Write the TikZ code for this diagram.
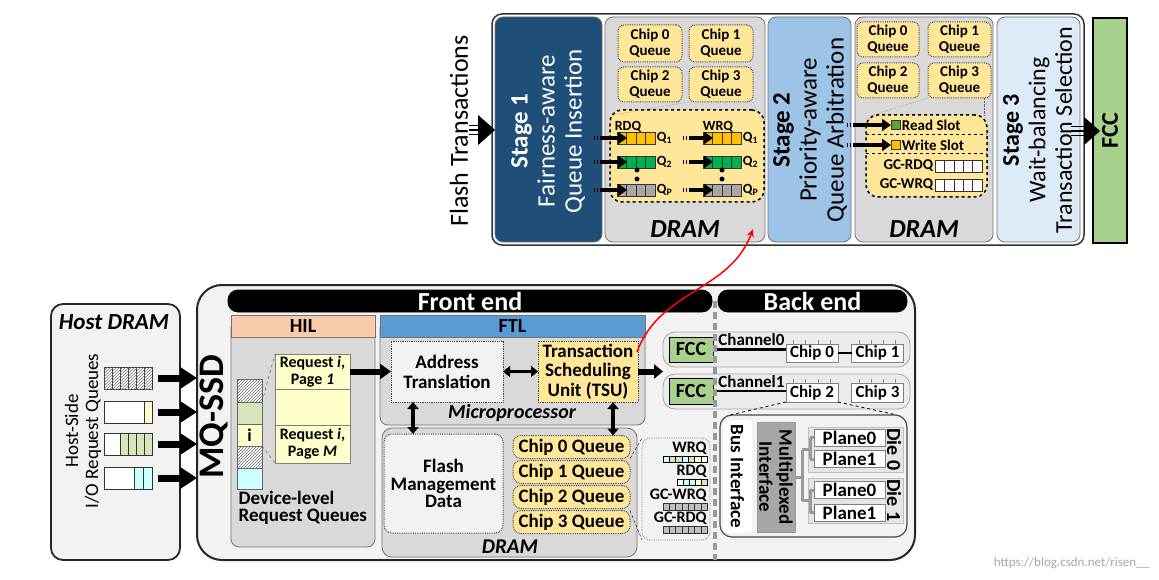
\documentclass[tikz,border=0pt]{standalone}
\usepackage{fontspec}
\setmainfont{Carlito}
\usetikzlibrary{positioning,arrows.meta,calc,patterns}
\definecolor{stone}{HTML}{1F4E79}
\definecolor{stwo}{HTML}{9DC3E6}
\definecolor{sthree}{HTML}{DEEBF7}
\definecolor{fccg}{HTML}{A9D18E}
\definecolor{qyel}{HTML}{FFE699}
\definecolor{qgold}{HTML}{FFC000}
\definecolor{qgreen}{HTML}{00B050}
\definecolor{qgray}{HTML}{A6A6A6}
\definecolor{slotg}{HTML}{5EA33A}
\definecolor{hilc}{HTML}{F8CBAD}
\definecolor{ftlc}{HTML}{5B9BD5}
\definecolor{lgray}{HTML}{D9D9D9}
\definecolor{vlgray}{HTML}{F2F2F2}
\definecolor{pyel}{HTML}{FFFFCC}
\definecolor{pgreen}{HTML}{D8E4BC}
\definecolor{pcyan}{HTML}{CCFFFF}

\begin{document}
\begin{tikzpicture}[x=1pt, y=-1pt, thick,
    sz/.style 2 args={minimum width=#1pt, minimum height=#2pt},
    box/.style={draw=black!55, line width=.8pt, inner sep=0pt, outer sep=0pt},
    dotbox/.style={box, draw=black!75, densely dotted, line width=1pt},
    cq/.style={dotbox, fill=qyel, rounded corners=6pt, align=center, font=\bfseries\fontsize{15}{16}\selectfont},
    que/.style={draw=black!80, line width=.7pt, inner sep=0pt, outer sep=0pt},
    cells/.style 2 args={path picture={\foreach \k in {1,...,#1} \draw[line width=.6pt] ([xshift=\k*#2]path picture bounding box.south west) -- ([xshift=\k*#2]path picture bounding box.north west);}},
    hatch/.style={postaction={pattern=north east lines, pattern color=black!55}},
    stgtxt/.style={rotate=90, align=center, font=\fontsize{25}{27}\selectfont},
    lab/.style={inner sep=1.5pt, font=\bfseries\fontsize{14}{15}\selectfont},
    lab15/.style={inner sep=1.5pt, font=\bfseries\fontsize{15}{16}\selectfont},
    lab16/.style={inner sep=1pt, font=\bfseries\fontsize{16}{17}\selectfont},
    chip/.style={box, draw=black!50, fill=white, sz={52}{18}, font=\bfseries\fontsize{17}{18}\selectfont},
    pl/.style={box, draw=black!50, fill=white, sz={71}{17}, font=\bfseries\fontsize{19}{20}\selectfont},
    fat/.style={line width=7pt, -{Triangle[length=17pt,width=21pt]}},
    dbl/.style={line width=3.5pt, {Triangle[length=7pt,width=11pt]}-{Triangle[length=7pt,width=11pt]}},
    qarrow/.style={line width=3.2pt, dash pattern=on 1.3pt off 1.6pt on 1.3pt off 1.6pt on 60pt off 1pt, -{Triangle[length=9pt,width=12pt]}},
    tree/.style={line width=3pt, black!40}]
    \useasboundingbox (0,0) rectangle (1159,580);

    \node[box, draw=black!80, line width=1.5pt, rounded corners=10pt, fill=white, sz={592}{231}] (top) at (788,129.5) {};
    \node[box, rounded corners=8pt, fill=stone, sz={107}{225}] (st1) at (548.5,129.5) {};
    \node[stgtxt, text=white] (st1t) at (548,131) {\textbf{Stage 1}\\Fairness-aware\\Queue Insertion};
    \node[box, rounded corners=8pt, fill=lgray, sz={160}{225}] (dram1) at (685,129.5) {};
    \node[box, rounded corners=8pt, fill=stwo, sz={83}{225}] (st2) at (809.5,129.5) {};
    \node[stgtxt] (st2t) at (810,130) {\textbf{Stage 2}\\Priority-aware\\Queue Arbitration};
    \node[box, rounded corners=8pt, fill=lgray, sz={138}{225}] (dram2) at (924,129.5) {};
    \node[box, rounded corners=8pt, fill=sthree, sz={83}{225}] (st3) at (1038.5,129.5) {};
    \node[stgtxt, font=\fontsize{24}{26.5}\selectfont] (st3t) at (1037.5,130) {\textbf{Stage 3}\\Wait-balancing\\Transaction Selection};
    \node[box, draw=black, line width=1.2pt, fill=fccg, sz={34}{225}] (fcc0) at (1110,130.5) {};
    \node[rotate=90, font=\bfseries\fontsize{24}{26}\selectfont] (fcc0t) at (fcc0) {FCC};
    \node[rotate=90, font=\fontsize{26}{28}\selectfont] (ft) at (459,131) {Flash Transactions};

    \coordinate (fta) at (469,130);
    \draw[line width=1.2pt] ([shift={(0,-4.5)}]fta) -- ++(12,0) (fta) -- ++(12,0) ([shift={(0,4.5)}]fta) -- ++(12,0);
    \draw[line width=1pt, -{Triangle[length=17pt,width=30pt]}] ([xshift=10pt]fta) -- (fta -| st1.west);
    \coordinate (ftb) at (1071,131);
    \draw[line width=1.2pt] ([shift={(0,-4.5)}]ftb) -- ++(15,0) (ftb) -- ++(15,0) ([shift={(0,4.5)}]ftb) -- ++(15,0);
    \draw[line width=1pt, -{Triangle[length=16pt,width=28pt]}] ([xshift=13pt]ftb) -- ([xshift=7pt]fcc0.west |- ftb);

    \node[cq, sz={64}{37}] (q0a) at (650,43.5) {Chip 0\\Queue};
    \node[cq, sz={64}{37}] (q1a) at (721,43.5) {Chip 1\\Queue};
    \node[cq, sz={64}{35}] (q2a) at (650,84.5) {Chip 2\\Queue};
    \node[cq, sz={64}{35}] (q3a) at (721,84.5) {Chip 3\\Queue};
    \node[box, draw=black, dashed, line width=1.5pt, rounded corners=12pt, fill=qyel, sz={154}{92}] (qb1) at (687,156) {};
    \draw[densely dotted, thin, black!60] (q3a.south west) -- ([shift={(3,5)}]qb1.north west);
    \draw[densely dotted, thin, black!60] (q3a.south east) -- ([shift={(-2,12)}]qb1.north east);
    \node[lab] (rdq) at (628,127) {RDQ};
    \node[lab] (wrq) at (718,127) {WRQ};
    \node[que, fill=qgold, cells={3}{9.5}, sz={38}{12}] (r1) at (636,138) {};
    \node[que, fill=qgreen, cells={3}{9.5}, sz={38}{12}] (r2) at (636,162) {};
    \node[que, fill=qgray, cells={3}{9.5}, sz={38}{12}] (rP) at (636,190) {};
    \node[que, fill=qgold, cells={3}{9.5}, sz={38}{12}] (w1) at (722,138) {};
    \node[que, fill=qgreen, cells={3}{9.5}, sz={38}{12}] (w2) at (722,162) {};
    \node[que, fill=qgray, cells={3}{9.5}, sz={38}{12}] (wP) at (722,190) {};
    \node[lab, anchor=west] (r1q) at (r1.east) {Q\textsubscript{1}};
    \node[lab, anchor=west] (r2q) at (r2.east) {Q\textsubscript{2}};
    \node[lab, anchor=west] (rPq) at (rP.east) {Q\textsubscript{P}};
    \node[lab, anchor=west] (w1q) at (w1.east) {Q\textsubscript{1}};
    \node[lab, anchor=west] (w2q) at (w2.east) {Q\textsubscript{2}};
    \node[lab, anchor=west] (wPq) at (wP.east) {Q\textsubscript{P}};
    \draw[qarrow] ([xshift=-23pt]r1.west) -- ([xshift=10pt]r1.west);
    \draw[qarrow] ([xshift=-23pt]r2.west) -- ([xshift=10pt]r2.west);
    \draw[qarrow] ([xshift=-23pt]rP.west) -- ([xshift=10pt]rP.west);
    \draw[qarrow] ([xshift=-20pt]w1.west) -- ([xshift=10pt]w1.west);
    \draw[qarrow] ([xshift=-20pt]w2.west) -- ([xshift=10pt]w2.west);
    \draw[qarrow] ([xshift=-20pt]wP.west) -- ([xshift=10pt]wP.west);
    \fill (637,170) circle (2.5) (637,179) circle (2.5) (722,170) circle (2.5) (722,179) circle (2.5);
    \node[font=\bfseries\itshape\fontsize{26}{28}\selectfont] (d1l) at (685,229) {DRAM};

    \node[cq, sz={62}{35}] (q0b) at (888,39.5) {Chip 0\\Queue};
    \node[cq, sz={63}{35}] (q1b) at (959.5,39.5) {Chip 1\\Queue};
    \node[cq, sz={62}{35}] (q2b) at (888,80.5) {Chip 2\\Queue};
    \node[cq, sz={63}{35}] (q3b) at (959.5,80.5) {Chip 3\\Queue};
    \node[box, draw=black, dashed, line width=1.5pt, rounded corners=12pt, fill=qyel, sz={121}{82}] (qb2) at (926.5,156) {};
    \draw[densely dotted, thin, black!60] (q3b.south west) -- ([shift={(4,1)}]qb2.north west);
    \draw[densely dotted, thin, black!60] ([xshift=-7pt]q3b.south east) -- ([xshift=-7pt]q3b.south east |- qb2.north);
    \draw[dashed, line width=1pt] ([shift={(0,20)}]qb2.north west) -- ([shift={(0,20)}]qb2.north east);
    \draw[dashed, line width=1pt] ([shift={(0,39)}]qb2.north west) -- ([shift={(0,39)}]qb2.north east);
    \node[que, fill=slotg, sz={9}{9}] (rs) at (895.5,125) {};
    \node[que, fill=qgold, sz={9}{9}] (ws) at (895.5,145) {};
    \node[lab15, anchor=west] (rst) at (rs.east) {Read Slot};
    \node[lab15, anchor=west] (wst) at (ws.east) {Write Slot};
    \draw[qarrow] ([xshift=-44pt]rs.west) -- (rs.west);
    \draw[qarrow] ([xshift=-44pt]ws.west) -- (ws.west);
    \node[que, fill=white, cells={4}{9.4}, sz={47}{12}] (gq1) at (958.5,166) {};
    \node[que, fill=white, cells={4}{9.4}, sz={47}{12}] (gq2) at (958.5,185) {};
    \node[lab15, anchor=east] (gq1l) at (gq1.west) {GC-RDQ};
    \node[lab15, anchor=east] (gq2l) at (gq2.west) {GC-WRQ};
    \node[font=\bfseries\itshape\fontsize{26}{28}\selectfont] (d2l) at (924,229) {DRAM};

    \node[box, draw=black!85, line width=2pt, rounded corners=25pt, fill=vlgray, sz={718}{275}] (ssd) at (556,422.5) {};
    \node[box, draw=black!85, line width=1.8pt, rounded corners=12pt, fill=vlgray, sz={129}{256}] (host) at (115.5,432) {};
    \node[font=\bfseries\itshape\fontsize{23}{25}\selectfont] (hostl) at (114,322) {Host DRAM};
    \node[rotate=90, align=center, font=\fontsize{19}{20}\selectfont] (hsq) at (83,431) {Host-Side\\I/O Request Queues};
    \node[que, fill=white, hatch, cells={5}{8}, sz={48}{22}] (h1) at (128,378) {};
    \node[que, fill=white, sz={40}{22}] (h2) at (124,412) {};
    \node[que, fill=pyel, sz={8}{22}, right=0pt of h2] (h2c) {};
    \node[que, fill=white, sz={16}{22}] (h3) at (112,444) {};
    \node[que, fill=pgreen, cells={3}{8}, sz={32}{22}, right=0pt of h3] (h3c) {};
    \node[que, fill=white, sz={30}{22}] (h4) at (119,478) {};
    \node[que, fill=pcyan, cells={1}{9}, sz={18}{22}, right=0pt of h4] (h4c) {};
    \draw[fat] (h1.east) ++(6,0) -- (ssd.west |- h1);
    \draw[fat] (h2c.east) ++(6,0) -- (ssd.west |- h2c);
    \draw[fat] (h3c.east) ++(6,0) -- (ssd.west |- h3c);
    \draw[fat] (h4c.east) ++(6,0) -- (ssd.west |- h4c);
    \node[rotate=90, font=\bfseries\fontsize{36}{38}\selectfont] (mq) at (214,417) {MQ-SSD};

    \node[box, draw=black, fill=black, rounded corners=10pt, sz={484}{22}, text=white, font=\bfseries\fontsize{26}{26}\selectfont] (fe) at (470,301) {Front end};
    \node[box, draw=black, fill=black, rounded corners=10pt, sz={189}{22}, text=white, font=\bfseries\fontsize{26}{26}\selectfont] (be) at (812.5,301) {Back end};

    \node[box, rounded corners=8pt, fill=lgray, sz={144}{227}] (hilb) at (303,433.5) {};
    \node[box, fill=hilc, sz={144}{22}, font=\bfseries\fontsize{20}{22}\selectfont] (hil) at (303,326) {HIL};
    \node[que, draw=black!60, fill=white, hatch, sz={25}{23}] (dq1) at (249.5,390.5) {};
    \node[que, draw=black!60, fill=pgreen, sz={25}{22}, below=0pt of dq1] (dq2) {};
    \node[que, draw=black!60, fill=pyel, sz={25}{22}, below=0pt of dq2, font=\bfseries\fontsize{18}{18}\selectfont] (dq3) {i};
    \node[que, draw=black!60, fill=white, hatch, sz={25}{22}, below=0pt of dq3] (dq4) {};
    \node[que, draw=black!60, fill=pcyan, sz={25}{21}, below=0pt of dq4] (dq5) {};
    \node[que, draw=black!50, fill=pyel, sz={75}{35}, align=center, font=\bfseries\fontsize{16}{17}\selectfont] (rl1) at (312.5,371.5) {Request \textit{i},\\Page \textit{1}};
    \node[que, draw=black!50, fill=pyel, sz={75}{36}, below=0pt of rl1] (rl2) {};
    \node[que, draw=black!50, fill=pyel, sz={75}{38}, align=center, font=\bfseries\fontsize{16}{17}\selectfont, below=0pt of rl2] (rl3) {Request \textit{i},\\Page \textit{M}};
    \draw[dashed, thin, black!70] (dq2.north east) -- (rl1.north west);
    \draw[dashed, thin, black!70] (dq3.south east) -- (rl3.south west);
    \node[anchor=west, align=left, font=\bfseries\fontsize{19}{17}\selectfont] (dlq) at (235,508) {Device-level\\Request Queues};

    \node[box, rounded corners=8pt, fill=lgray, sz={265}{105}] (mp) at (512.5,372.5) {};
    \node[box, fill=ftlc, sz={265}{22}, font=\bfseries\fontsize{20}{22}\selectfont] (ftl) at (512.5,326) {FTL};
    \node[font=\bfseries\itshape\fontsize{20}{22}\selectfont] (mpl) at (512,413) {Microprocessor};
    \node[dotbox, fill=vlgray, sz={112}{61}, align=center, font=\bfseries\fontsize{19}{20}\selectfont] (at) at (447,371.5) {Address\\Translation};
    \node[dotbox, fill=qyel, sz={100}{61}, align=center, font=\bfseries\fontsize{19}{19.5}\selectfont] (tsu) at (588,371.5) {Transaction\\Scheduling\\Unit (TSU)};
    \draw[fat, line width=6pt, -{Triangle[length=11pt,width=15pt]}] (rl1) -- (at);
    \draw[dbl] (at) -- (tsu);

    \node[box, rounded corners=10pt, fill=lgray, sz={255}{129}] (dram3) at (509.5,492.5) {};
    \node[dotbox, rounded corners=8pt, fill=vlgray, sz={119}{99}, align=center, font=\bfseries\fontsize{19}{17.5}\selectfont] (fmd) at (443.5,483.5) {Flash\\Management\\Data};
    \node[cq, rounded corners=8pt, sz={117}{23}, font=\bfseries\fontsize{19}{20}\selectfont] (c0q) at (571.5,447) {Chip 0 Queue};
    \node[cq, rounded corners=8pt, sz={117}{23}, font=\bfseries\fontsize{19}{20}\selectfont, below=2pt of c0q] (c1q) {Chip 1 Queue};
    \node[cq, rounded corners=8pt, sz={117}{23}, font=\bfseries\fontsize{19}{20}\selectfont, below=2pt of c1q] (c2q) {Chip 2 Queue};
    \node[cq, rounded corners=8pt, sz={117}{23}, font=\bfseries\fontsize{19}{20}\selectfont, below=2pt of c2q] (c3q) {Chip 3 Queue};
    \node[font=\bfseries\itshape\fontsize{21}{22}\selectfont] (d3l) at (510,547) {DRAM};
    \draw[dbl] ([xshift=22pt]at.south west) -- ([xshift=22pt]at.south west |- fmd.north);
    \draw[dbl] ([xshift=-25pt]tsu.south east) -- ([xshift=-25pt]tsu.south east |- c0q.north);

    \node[box, draw=black!50, densely dotted, rounded corners=8pt, sz={68}{102}] (sq) at (676,489) {};
    \draw[densely dashed, thin] (c0q.south east) -- (sq.north west);
    \draw[densely dashed, thin] (c3q.north east) -- (sq.south west);
    \node[lab16, anchor=east] (wql) at (708,448) {WRQ};
    \node[lab16, anchor=east] (rql) at (708,471) {RDQ};
    \node[lab16, anchor=east] (gwl) at (708,495) {GC-WRQ};
    \node[lab16, anchor=east] (grl) at (708,518) {GC-RDQ};
    \foreach \c [count=\k from 0] in {pcyan,pgreen,pgreen,pcyan,pgreen,pyel,white}
        \draw[fill=\c, line width=.6pt] (663+\k*6.3,456) rectangle ++(6.3,6.5);
    \foreach \c [count=\k from 0] in {white,pcyan,pcyan,pyel,pgreen}
        \draw[fill=\c, line width=.6pt] (677+\k*6,479) rectangle ++(6,6.5);
    \node[que, fill=black!25, cells={6}{6.3}, sz={44}{7}] (gw) at (685,506.5) {};
    \node[que, fill=black!25, cells={6}{6.3}, sz={44}{7}] (gr) at (685,529.5) {};

    \node[box, draw=black!35, rounded corners=12pt, fill=black!8, sz={247}{35}] (ch0) at (786.5,349.5) {};
    \node[box, draw=black!35, rounded corners=12pt, fill=black!8, sz={247}{35}] (ch1) at (786.5,391.5) {};
    \node[box, draw=black, fill=fccg, sz={44}{25}, font=\bfseries\fontsize{20}{22}\selectfont] (fa) at (691,349.5) {FCC};
    \node[box, draw=black, fill=fccg, sz={44}{26}, font=\bfseries\fontsize{20}{22}\selectfont] (fb) at (691,391) {FCC};
    \node[chip] (c0) at (812,353) {Chip 0};
    \node[chip] (c1) at (877.5,353) {Chip 1};
    \node[chip, sz={52}{19}] (c2) at (812,392.5) {Chip 2};
    \node[chip, sz={52}{19}] (c3) at (877.5,392.5) {Chip 3};
    \foreach \n in {c0,c1,c2,c3}
        \foreach \f in {0.15,0.38,0.62,0.85}
            \draw[black!45, line width=.8pt] ($(\n.north west)!\f!(\n.north east)$) -- ++(0,-4);
    \node[inner sep=0pt, anchor=west, font=\bfseries\fontsize{17}{18}\selectfont] (ch0l) at (718,340) {Channel0};
    \node[inner sep=0pt, anchor=west, font=\bfseries\fontsize{17}{18}\selectfont] (ch1l) at (718,382) {Channel1};
    \draw[line width=2.5pt] (fa.east) -- (fa.east -| c0.west);
    \draw[line width=2.5pt] (c0) -- (c1);
    \draw[line width=2.5pt] (fb.east) -- (fb.east -| c2.west);
    \draw[fat, line width=6pt, -{Triangle[length=9pt,width=14pt]}] (tsu.east) -- (tsu.east -| ch0.west);

    \node[box, draw=black!70, line width=1.2pt, rounded corners=12pt, fill=vlgray, sz={187}{122}] (cd) at (813.5,476) {};
    \draw[dashed, line width=.8pt] (c2.south west) -- ([xshift=10pt]cd.north west);
    \draw[dashed, line width=.8pt] (c2.south east) -- ([xshift=-10pt]cd.north east);
    \node[box, draw=none, fill=white, rounded corners=3pt, sz={29}{113}] (bus) at (737.5,476.5) {};
    \node[rotate=-90, font=\bfseries\fontsize{19}{20}\selectfont] (bust) at (bus) {Bus Interface};
    \node[box, draw=black!40, fill=black!35, sz={38}{110}] (mux) at (776,477) {};
    \node[rotate=-90, align=center, font=\bfseries\fontsize{19}{20}\selectfont] (muxt) at (mux) {Multiplexed\\Interface};
    \node[box, draw=black!25, fill=black!10, sz={95}{45}] (die0) at (855.5,449.5) {};
    \node[box, draw=black!25, fill=black!10, sz={95}{45}] (die1) at (855.5,500.5) {};
    \node[pl] (p00) at (849.5,437.5) {Plane0};
    \node[pl] (p01) at (849.5,459) {Plane1};
    \node[pl] (p10) at (849.5,490) {Plane0};
    \node[pl] (p11) at (849.5,512.5) {Plane1};
    \node[rotate=-90, font=\bfseries\fontsize{20}{22}\selectfont] (d0t) at (894,449.5) {Die 0};
    \node[rotate=-90, font=\bfseries\fontsize{20}{22}\selectfont] (d1t) at (894,500.5) {Die 1};
    \draw[tree] (mux.east) -- ++(7,0) coordinate (tr);
    \draw[tree] (tr |- die0) -- (tr |- die1);
    \draw[tree] (tr |- die0) -- ++(8,0) coordinate (t0) (t0 |- p00) -- (t0 |- p01) (t0 |- p00) -- (p00.west) (t0 |- p01) -- (p01.west);
    \draw[tree] (tr |- die1) -- ++(8,0) coordinate (t1) (t1 |- p10) -- (t1 |- p11) (t1 |- p10) -- (p10.west) (t1 |- p11) -- (p11.west);

    \coordinate (mid) at ($(fe.east)!.5!(be.west)$);
    \draw[line width=4pt, black!40, dash pattern=on 7pt off 4pt] (mid) -- (mid |- ssd.south);

    \draw[red, line width=1.5pt, -{Stealth[length=8pt,width=7pt]}] ([shift={(-1,11)}]tsu.north east) to[out=70, in=-110] ([shift={(-12,-13)}]dram1.south east);
    \node[anchor=east, text=black!35, font=\fontsize{13}{14}\selectfont] (wm) at (1153,563) {https://blog.csdn.net/risen\_\_};
\end{tikzpicture}
\end{document}
